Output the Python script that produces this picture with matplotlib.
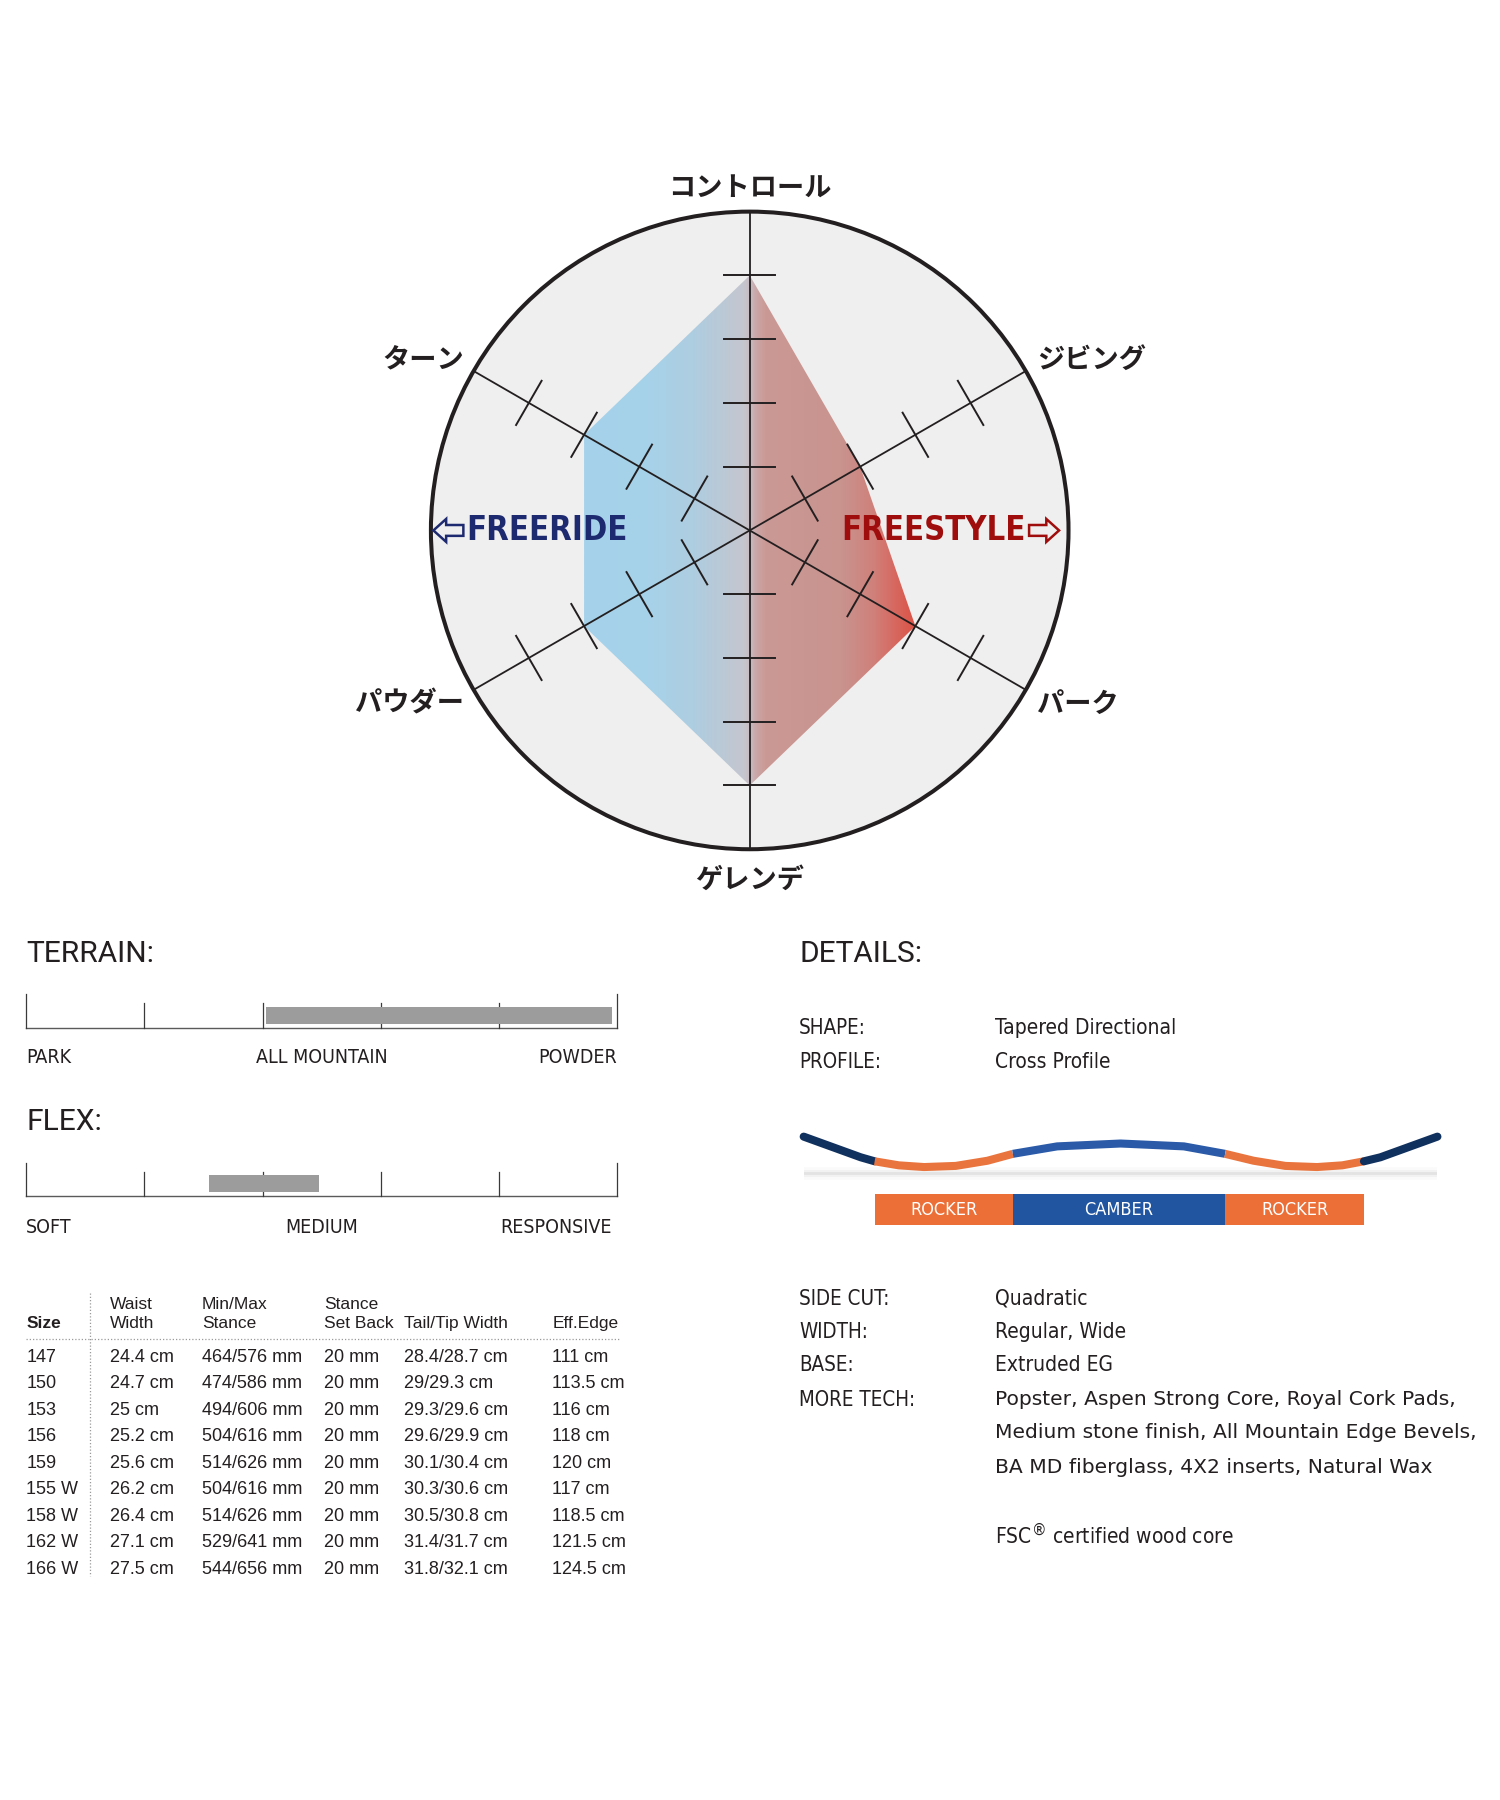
import numpy as np
import matplotlib
matplotlib.use('Agg')
import matplotlib.pyplot as plt
from matplotlib import font_manager as fm
from matplotlib.colors import LinearSegmentedColormap
from matplotlib.patches import Circle, Polygon, Rectangle

# ---------------- data ----------------
radar_categories = ['コントロール', 'ジビング', 'パーク', 'ゲレンデ', 'パウダー', 'ターン']
radar_values = [4, 2, 3, 4, 3, 3]
radar_ticks = [1, 2, 3, 4]
radar_max = 5

terrain_labels = ['PARK', 'ALL MOUNTAIN', 'POWDER']
terrain_label_pos = [0, 2.5, 5]
terrain_range = (2.03, 4.95)
flex_labels = ['SOFT', 'MEDIUM', 'RESPONSIVE']
flex_label_pos = [0, 2.5, 4.95]
flex_range = (1.55, 2.48)
scale_ticks = [0, 1, 2, 3, 4, 5]

detail_labels_top = ['SHAPE:', 'PROFILE:']
detail_values_top = ['Tapered Directional', 'Cross Profile']
detail_labels_bottom = ['SIDE CUT:', 'WIDTH:', 'BASE:', 'MORE TECH:']
detail_values_bottom = ['Quadratic', 'Regular, Wide', 'Extruded EG']
more_tech_lines = ['Popster, Aspen Strong Core, Royal Cork Pads,',
                   'Medium stone finish, All Mountain Edge Bevels,',
                   'BA MD fiberglass, 4X2 inserts, Natural Wax']
fsc_note = 'FSC$^{\u00ae}$ certified wood core'

profile_pos = [0, 3, 6, 9, 11.2, 15, 19, 24, 29, 33, 40, 50, 60, 66.5, 71, 76, 81, 85, 88.4, 91, 94, 97, 100]
profile_height = [25, 19, 13, 7, 3.5, 0, -1.5, -0.5, 4, 10, 16.5, 19, 16.5, 10, 4, -0.5, -1.5, 0, 3.5, 7, 13, 19, 25]
zone_names = ['ROCKER', 'CAMBER', 'ROCKER']
zone_edges = [11.2, 33, 66.5, 88.4]

table_header1 = ['', 'Waist', 'Min/Max', 'Stance', '', '']
table_header2 = ['Size', 'Width', 'Stance', 'Set Back', 'Tail/Tip Width', 'Eff.Edge']
sizes = ['147', '150', '153', '156', '159', '155 W', '158 W', '162 W', '166 W']
waist_width = ['24.4 cm', '24.7 cm', '25 cm', '25.2 cm', '25.6 cm', '26.2 cm', '26.4 cm', '27.1 cm', '27.5 cm']
minmax_stance = ['464/576 mm', '474/586 mm', '494/606 mm', '504/616 mm', '514/626 mm',
                 '504/616 mm', '514/626 mm', '529/641 mm', '544/656 mm']
set_back = ['20 mm', '20 mm', '20 mm', '20 mm', '20 mm', '20 mm', '20 mm', '20 mm', '20 mm']
tail_tip = ['28.4/28.7 cm', '29/29.3 cm', '29.3/29.6 cm', '29.6/29.9 cm', '30.1/30.4 cm',
            '30.3/30.6 cm', '30.5/30.8 cm', '31.4/31.7 cm', '31.8/32.1 cm']
eff_edge = ['111 cm', '113.5 cm', '116 cm', '118 cm', '120 cm', '117 cm', '118.5 cm', '121.5 cm', '124.5 cm']

# ---------------- fonts ----------------
entries = fm.fontManager.ttflist
names = {f.name for f in entries}


def wnum(w):
    if isinstance(w, (int, float)):
        return int(w)
    return fm.weight_dict.get(str(w).lower(), 400)


def narrow_font():
    if 'Liberation Sans Narrow' in names:
        return dict(family=['Liberation Sans Narrow', 'DejaVu Sans'])
    if any(f.name == 'DejaVu Sans' and f.stretch == 'condensed' for f in entries):
        return dict(family=['DejaVu Sans'], stretch='condensed')
    return dict(family=['Liberation Sans', 'DejaVu Sans'])


def heading_font():
    for fam in ['Roboto', 'Lato', 'Open Sans', 'Inter', 'Noto Sans']:
        if fam in names:
            return dict(family=[fam, 'DejaVu Sans'], weight='normal')
    return dict(family=['DejaVu Sans'])


NARROW = narrow_font()
HEAD = heading_font()
CJK = dict(family=['Noto Sans CJK JP', 'DejaVu Sans'], weight='bold')
TABLE = dict(family=['Liberation Sans', 'DejaVu Sans'])
WIDE = dict(family=['DejaVu Sans'])
INK = '#231f20'

# ---------------- figure ----------------
# layout is designed in a 1300 x 1560 grid
W, H = 1306.5, 1567.8
fig = plt.figure(figsize=(15, 18), dpi=100)
fig.patch.set_facecolor('white')


def rect(x0, y0, x1, y1):
    return [x0 / W, 1 - y1 / H, (x1 - x0) / W, (y1 - y0) / H]


page = fig.add_axes([0, 0, 1, 1])
page.set_xlim(0, W)
page.set_ylim(H, 0)
page.axis('off')

# ---------------- radar ----------------
cx, cy, half = 653, 462, 311
ax = fig.add_axes(rect(cx - half, cy - half, cx + half, cy + half))
ax.set_xlim(-5.6, 5.6)
ax.set_ylim(-5.6, 5.6)
ax.axis('off')

theta = np.deg2rad(np.arange(len(radar_categories)) * 60.0)
ux, uy = np.sin(theta), np.cos(theta)
px, py = np.cos(theta), -np.sin(theta)

ax.add_patch(Circle((0, 0), radar_max, fc='#efefef', ec='none', zorder=0))

vals = np.array(radar_values, dtype=float)
pxy = np.column_stack([vals * ux, vals * uy])
poly = Polygon(pxy, closed=True, fc='none', ec='none', zorder=1)
ax.add_patch(poly)
stops = [(-2.6, '#a5d3eb'), (-1.6, '#a6d2e9'), (-0.9, '#aecde1'), (-0.45, '#bac9d6'),
         (-0.1, '#c5c6cf'), (0.0, '#c8bcc2'), (0.1, '#caa6a7'), (0.25, '#cb9995'),
         (1.45, '#c9938e'), (1.95, '#d0807a'), (2.6, '#dc5246')]
cm = LinearSegmentedColormap.from_list(
    'fr', [((x - stops[0][0]) / (stops[-1][0] - stops[0][0]), c) for x, c in stops])
grad = np.linspace(0, 1, 600).reshape(1, -1)
im = ax.imshow(grad, extent=[stops[0][0], stops[-1][0], -radar_max, radar_max],
               cmap=cm, aspect='auto', zorder=1, interpolation='bilinear')
im.set_clip_path(poly)
ax.set_xlim(-5.6, 5.6)
ax.set_ylim(-5.6, 5.6)

for i in range(len(radar_categories)):
    ax.plot([0, radar_max * ux[i]], [0, radar_max * uy[i]], color=INK, lw=1.3, zorder=3,
            solid_capstyle='butt')
    for r in radar_ticks:
        ax.plot([r * ux[i] - 0.4 * px[i], r * ux[i] + 0.4 * px[i]],
                [r * uy[i] - 0.4 * py[i], r * uy[i] + 0.4 * py[i]],
                color=INK, lw=1.4, zorder=3)
ax.add_patch(Circle((0, 0), radar_max, fc='none', ec=INK, lw=2.9, zorder=4))

for i, cat in enumerate(radar_categories):
    if abs(ux[i]) < 1e-6:
        x, y = 0, (5.365 if uy[i] > 0 else -5.475)
        ha = 'center'
    else:
        x = 5.23 * ux[i] + (-0.02 if ux[i] > 0 else 0.05)
        y = 5.23 * uy[i] + (0.065 if uy[i] > 0 else -0.1)
        ha = 'left' if ux[i] > 0 else 'right'
    ax.text(x, y, cat, ha=ha, va='center', fontsize=19.6, color=INK, clip_on=False, zorder=6, **CJK)

renderer = fig.canvas.get_renderer()
inv = ax.transData.inverted()


def outline_arrow(tip_x, direction, color):
    # direction: -1 points left, +1 points right
    shape = [(0, 0), (0.2, 0.18), (0.2, 0.085), (0.47, 0.085), (0.47, -0.085),
             (0.2, -0.085), (0.2, -0.18)]
    pts = [(tip_x - direction * sx, sy) for sx, sy in shape]
    ax.add_patch(Polygon(pts, closed=True, fc='none', ec=color, lw=1.8, zorder=6,
                         joinstyle='miter', clip_on=False))


t1 = ax.text(-1.91, 0, 'FREERIDE', ha='right', va='center', fontsize=23.5, color='#1e2a70',
             weight='bold', zorder=6, clip_on=False, **NARROW)
bb = t1.get_window_extent(renderer)
x0 = inv.transform((bb.x0, bb.y0))[0]
outline_arrow(x0 - 0.05 - 0.47, -1, '#1e2a70')

t2 = ax.text(1.44, 0, 'FREESTYLE', ha='left', va='center', fontsize=23.5, color='#a00d0d',
             weight='bold', zorder=6, clip_on=False, **NARROW)
bb = t2.get_window_extent(renderer)
x1 = inv.transform((bb.x1, bb.y0))[0]
outline_arrow(x1 + 0.05 + 0.47, 1, '#a00d0d')

# ---------------- terrain / flex scales ----------------
page.text(23, 831, 'TERRAIN:', ha='left', va='center', fontsize=21.5, color=INK, **HEAD)
page.text(23, 977, 'FLEX:', ha='left', va='center', fontsize=21.5, color=INK, **HEAD)


def draw_scale(base_y, rng, bar_lo, bar_hi, labels, lpos, label_y):
    a = fig.add_axes(rect(22.7, base_y - 34, 537.8, base_y + 6))
    a.set_xlim(0, 5)
    a.set_ylim(-6, 34)
    a.axis('off')
    a.plot([0, 5], [0, 0], color='#5a5a5a', lw=1.0, clip_on=False)
    for t in scale_ticks:
        top = 29 if t in (scale_ticks[0], scale_ticks[-1]) else 21
        a.plot([t, t], [0, top], color='#3a3a3a', lw=0.9, clip_on=False)
    a.add_patch(Rectangle((rng[0], bar_lo), rng[1] - rng[0], bar_hi - bar_lo,
                          fc='#9c9c9c', ec='none', zorder=3))
    for lab, p in zip(labels, lpos):
        ha = 'left' if p == lpos[0] else ('right' if p == lpos[-1] else 'center')
        a.text(p, -(label_y - base_y), lab, ha=ha, va='center', fontsize=14, color=INK,
               clip_on=False, **NARROW)


draw_scale(895, terrain_range, 3, 18, terrain_labels, terrain_label_pos, 921)
draw_scale(1042, flex_range, 4, 19, flex_labels, flex_label_pos, 1069)

# ---------------- details ----------------
page.text(696, 831, 'DETAILS:', ha='left', va='center', fontsize=21.5, color=INK, **HEAD)
for lab, val, y in zip(detail_labels_top, detail_values_top, [895, 925]):
    page.text(696, y, lab, ha='left', va='center', fontsize=14.8, color=INK, **NARROW)
    page.text(867, y, val, ha='left', va='center', fontsize=15, color=INK, **NARROW)

rows_y = [1131, 1160, 1189, 1219]
for lab, y in zip(detail_labels_bottom, rows_y):
    page.text(696, y, lab, ha='left', va='center', fontsize=14.8, color=INK, **NARROW)
for val, y in zip(detail_values_bottom, rows_y):
    page.text(867, y, val, ha='left', va='center', fontsize=15, color=INK, **NARROW)
for line, y in zip(more_tech_lines, [1219, 1248, 1278]):
    page.text(867, y, line, ha='left', va='center', fontsize=14.6, color=INK, **WIDE)
page.text(867, 1337, fsc_note, ha='left', va='center', fontsize=15, color=INK, **NARROW)

# board profile
b = fig.add_axes(rect(700, 975, 1252, 1070))
b.set_xlim(0, 100)
b.set_ylim(-55, 40)
b.axis('off')
for alpha, lw in [(0.08, 9), (0.15, 5), (0.35, 2)]:
    b.plot([0, 100], [-7, -7], color='#c8c8c8', lw=lw, alpha=alpha, solid_capstyle='round')
pp = np.array(profile_pos)
ph = np.array(profile_height)
seg_colors = ['#10305e', '#e9743d', '#2a5aa8', '#e9743d', '#10305e']
bounds = [pp[0]] + zone_edges + [pp[-1]]
for s in range(len(seg_colors)):
    m = (pp >= bounds[s]) & (pp <= bounds[s + 1])
    cap = 'round' if s in (0, len(seg_colors) - 1) else 'butt'
    b.plot(pp[m], ph[m], color=seg_colors[s], lw=5.8, solid_capstyle=cap,
           solid_joinstyle='round', clip_on=False, zorder=3)
bar_colors = ['#ec6f38', '#2155a0', '#ec6f38']
for z, name in enumerate(zone_names):
    b.bar(zone_edges[z], -27, width=zone_edges[z + 1] - zone_edges[z], bottom=-25,
          align='edge', color=bar_colors[z], edgecolor='none', zorder=2)
    b.text((zone_edges[z] + zone_edges[z + 1]) / 2, -38.5, name, ha='center', va='center',
           color='white', fontsize=13, zorder=4, **NARROW)

# ---------------- table ----------------
col_x = [23, 96, 176, 282, 352, 481]
for x, t in zip(col_x, table_header1):
    if t:
        page.text(x, 1136, t, ha='left', va='center', fontsize=12.5, color=INK, **TABLE)
for j, (x, t) in enumerate(zip(col_x, table_header2)):
    page.text(x, 1153, t, ha='left', va='center', fontsize=12.5, color=INK,
              weight='bold' if j == 0 else 'normal', **TABLE)
page.plot([23, 540], [1166, 1166], color='#9a9a9a', lw=0.9, ls=(0, (1, 1.6)))
page.plot([78, 78], [1126, 1373], color='#9a9a9a', lw=0.9, ls=(0, (1, 1.6)))
columns = [sizes, waist_width, minmax_stance, set_back, tail_tip, eff_edge]
for i in range(len(sizes)):
    y = 1182 + i * 23.1
    for x, col in zip(col_x, columns):
        page.text(x, y, col[i], ha='left', va='center', fontsize=13, color=INK, **TABLE)

fig.savefig('out.png', dpi=100, facecolor='white')
